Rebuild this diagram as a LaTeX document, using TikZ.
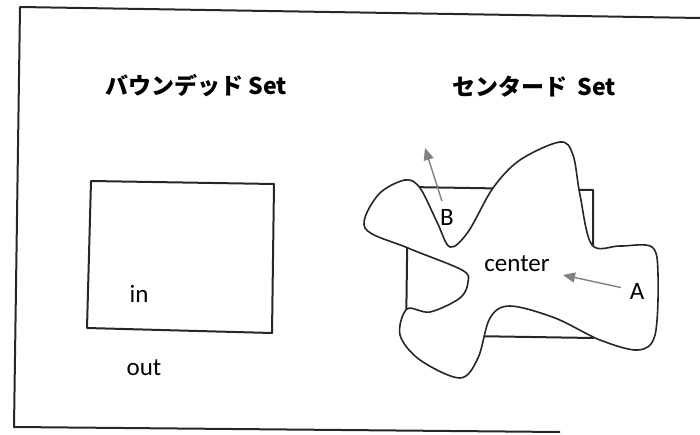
\documentclass[tikz,border=0pt]{standalone}
\usepackage{fontspec}
\setmainfont{Carlito}
\newfontfamily\jpfont{Noto Sans CJK JP}
\usetikzlibrary{arrows.meta, positioning}
\tikzstyle{sheet} = [line width=2pt, black!85, line join=round]
\tikzstyle{setbox} = [line width=2pt, black!85, line join=round]
\tikzstyle{blobline} = [line width=1.6pt, black!85, fill=white]
\tikzstyle{title} = [inner sep=0pt, font=\jpfont\bfseries\fontsize{23}{26}\selectfont]
\tikzstyle{word} = [inner sep=0pt, font=\fontsize{25}{28}\selectfont]
\tikzstyle{pointer} = [line width=1.4pt, gray, -{Triangle[length=12pt, width=10pt]}]

\begin{document}
\begin{tikzpicture}[x=1pt, y=-1pt]
	\useasboundingbox (0,0) rectangle (700,435);

	% Outer frame
	\draw[sheet] (700,18) -- (20,7) -- (14,427) -- (560,432);

	% Titles
	\node (boundedtitle) [title, anchor=west] at (105,86) {バウンデッド Set};
	\node (centeredtitle) [title, anchor=west] at (452,87) {センタード~~Set};

	% Bounded set
	\draw[setbox] (91,181) -- (274,184) -- (272,333) -- (87,328) -- cycle;
	\node (in) [word] at (139,294) {in};
	\node (out) [word] at (144,368) {out};

	% Centered set: box behind the blob
	\draw[setbox] (408,187) -- (593,190) -- (593,338) -- (406,335) -- cycle;
	\draw[blobline] plot[smooth cycle, tension=0.55] coordinates {
		(365,228) (378,195) (405,180) (420,188) (437,222) (450,247)
		(468,232) (493,188) (520,160) (560,142) (573,155) (580,195)
		(592,245) (620,246) (652,247) (658,275) (655,335) (638,350)
		(600,340) (555,318) (510,306) (490,318) (478,358) (460,378)
		(420,360) (400,335) (407,309) (430,312) (460,298) (468,282)
		(462,270) (408,248)};

	\node (center) [word] at (517,264) {center};
	\node (lblA) [word] at (637,291) {A};
	\node (lblB) [word] at (447,217) {B};
	\coordinate (tipA) at (563,275);
	\coordinate (tipB) at (425,148);

	% Arrows
	\draw[pointer, shorten <=9pt] (lblA) -- (tipA);
	\draw[pointer, shorten <=8pt] (lblB) -- (tipB);

\end{tikzpicture}
\end{document}
